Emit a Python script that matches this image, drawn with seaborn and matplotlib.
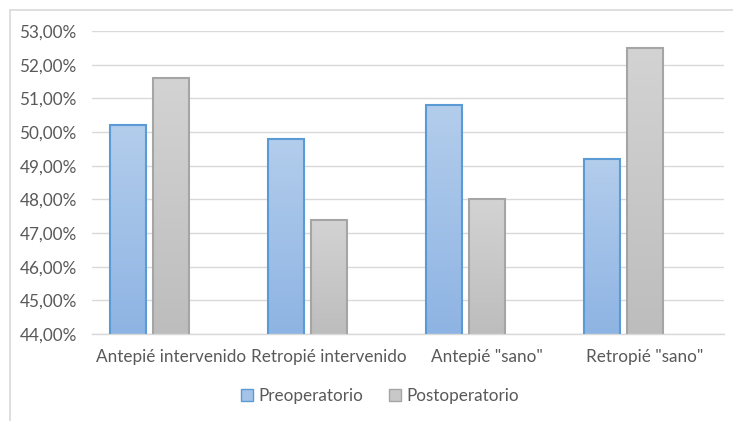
import numpy as np
import pandas as pd
import matplotlib
matplotlib.use("Agg")
import matplotlib.pyplot as plt
import seaborn as sns
from matplotlib.ticker import FuncFormatter
from matplotlib.colors import LinearSegmentedColormap
from matplotlib.patches import Rectangle
from matplotlib.lines import Line2D

categories = ['Antepié intervenido', 'Retropié intervenido', 'Antepié "sano"', 'Retropié "sano"']
preoperatorio = [50.2, 49.8, 50.8, 49.2]
postoperatorio = [51.6, 47.4, 48.0, 52.5]
series_names = ['Preoperatorio', 'Postoperatorio']
yticks = [44, 45, 46, 47, 48, 49, 50, 51, 52, 53]

sns.set_theme(style="white")
plt.rcParams['font.family'] = ['Lato', 'DejaVu Sans']

df = pd.DataFrame({
    'cat': categories * 2,
    'serie': [series_names[0]] * 4 + [series_names[1]] * 4,
    'valor': preoperatorio + postoperatorio,
})

fig = plt.figure(figsize=(7.33, 4.21), dpi=100)
ax = fig.add_axes([92/733, 1-334/421, (724-92)/733, (334-31)/421])

hue_order = series_names + [' ']
sns.barplot(data=df, x='cat', y='valor', hue='serie', hue_order=hue_order,
            order=categories, width=0.816, gap=0.16, ax=ax, legend=False,
            palette={'Preoperatorio': '#9dbde6', 'Postoperatorio': '#c8c8c8', ' ': 'white'},
            err_kws={'linewidth': 0})

ax.set_ylim(44, 53)
ax.set_xlim(-0.5, 3.5)

blue_cmap = LinearSegmentedColormap.from_list('b', ['#8eb4e3', '#b3cdec'])
gray_cmap = LinearSegmentedColormap.from_list('g', ['#bdbdbd', '#d3d3d3'])
grad = np.linspace(0, 1, 256).reshape(-1, 1)
patches = list(ax.patches)
for p in patches:
    h = p.get_height()
    if not np.isfinite(h) or h == 0:
        continue
    fc = p.get_facecolor()
    is_blue = fc[2] > fc[0] + 0.1
    cmap = blue_cmap if is_blue else gray_cmap
    x0, y0 = p.get_x(), p.get_y()
    w = p.get_width()
    y_bottom = 44
    y_top = y0 + h
    im = ax.imshow(grad, cmap=cmap, aspect='auto', origin='lower',
                   extent=[x0, x0 + w, y_bottom, y_top], zorder=2)
    im.set_clip_path(p)
    p.set_facecolor('none')
    p.set_edgecolor('#5b9bd5' if is_blue else '#a5a5a5')
    p.set_linewidth(1.5)
    p.set_zorder(3)

ax.set_xlim(-0.5, 3.5)
ax.set_ylim(44, 53)
ax.set_yticks(yticks)
ax.yaxis.set_major_formatter(FuncFormatter(lambda v, pos: f"{v:.2f}".replace('.', ',') + '%'))
ax.grid(axis='y', color='#d9d9d9', linewidth=1)
ax.set_axisbelow(True)
for s in ['left', 'right', 'top']:
    ax.spines[s].set_visible(False)
ax.spines['bottom'].set_color('#d9d9d9')
ax.spines['bottom'].set_linewidth(1)
ax.tick_params(axis='y', length=0, pad=11, labelsize=12.3, labelcolor='#595959')
ax.tick_params(axis='x', length=0, pad=11, labelsize=12.3, labelcolor='#595959')
ax.set_xlabel('')
ax.set_ylabel('')

# chart frame (left and top edges visible)
fig.add_artist(Line2D([10/733, 10/733], [0, 1-10/421], transform=fig.transFigure, color='#d9d9d9', lw=1.2))
fig.add_artist(Line2D([10/733, 1], [1-10/421, 1-10/421], transform=fig.transFigure, color='#d9d9d9', lw=1.2))

handles = [Rectangle((0, 0), 1, 1, facecolor='#a5c2e8', edgecolor='#5b9bd5', lw=1),
           Rectangle((0, 0), 1, 1, facecolor='#c8c8c8', edgecolor='#a5a5a5', lw=1)]
fig.legend(handles, series_names, loc='center', bbox_to_anchor=(380/733, 1-396/421),
           ncol=2, frameon=False, fontsize=12.3, labelcolor='#595959',
           handlelength=0.7, handleheight=0.7, handletextpad=0.3, columnspacing=1.5)

fig.savefig('out.png', dpi=100, facecolor='white')
